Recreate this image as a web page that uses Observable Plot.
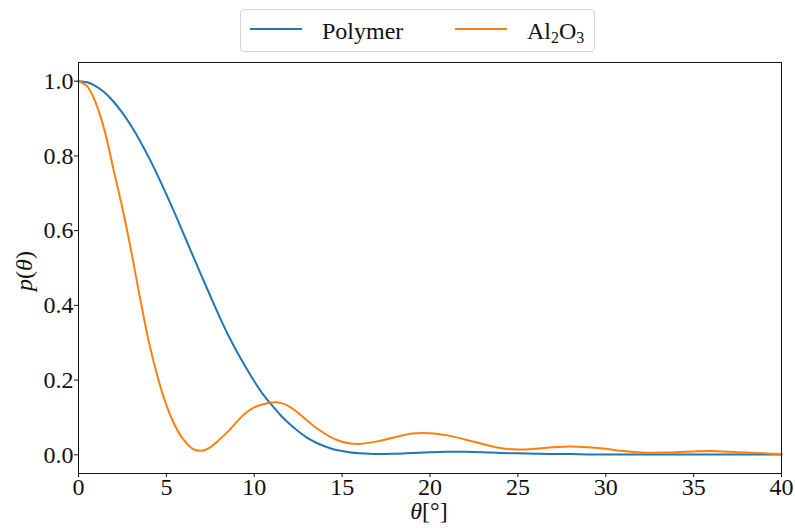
<!DOCTYPE html>
<html><head><meta charset="utf-8">
<script src="https://cdn.jsdelivr.net/npm/d3@7"></script>
<script src="https://cdn.jsdelivr.net/npm/@observablehq/plot@0.6"></script>
<style>
body{margin:0;background:#fff;font-family:"Liberation Serif",serif;}
#wrap{position:relative;width:795px;height:528px;overflow:hidden;}
#legend{position:relative;height:52px;}
.box{position:absolute;left:240px;top:9px;width:355px;height:43px;border:1px solid #d4d4d4;border-radius:4px;box-sizing:border-box;}
.sw{position:absolute;height:2px;top:28px;width:52px;}
.lab{position:absolute;top:17px;font-size:24px;line-height:28px;color:#111;white-space:nowrap;}
.lab sub{font-size:16px;vertical-align:-4px;line-height:0;}
#chart svg{display:block;}
#chart svg text{font-family:"Liberation Serif",serif !important;}
</style></head>
<body>
<div id="wrap">
  <div id="legend">
    <div class="box"></div>
    <div class="sw" style="left:250px;background:#1f77b4"></div>
    <div class="lab" style="left:322px">Polymer</div>
    <div class="sw" style="left:455px;background:#ff7f0e"></div>
    <div class="lab" style="left:527px">Al<sub>2</sub>O<sub>3</sub></div>
  </div>
  <div id="chart"></div>
</div>
<script>
const angles = [0,0.5,1,1.5,2,2.5,3,3.5,4,4.5,5,5.5,6,6.5,7,7.5,8,8.5,9,9.5,10,10.5,11,11.5,12,12.5,13,13.5,14,14.5,15,15.5,16,17,18,19,20,21,22,23,24,25,26,27,28,29,30,31,32,33,34,35,36,37,38,39,40];
const polymer = [1.000,0.997,0.986,0.969,0.945,0.915,0.880,0.840,0.796,0.748,0.697,0.644,0.589,0.534,0.479,0.425,0.372,0.322,0.277,0.236,0.197,0.162,0.133,0.106,0.083,0.063,0.046,0.033,0.023,0.015,0.010,0.006,0.004,0.002,0.003,0.005,0.007,0.008,0.008,0.007,0.005,0.004,0.003,0.002,0.002,0.001,0.001,0.001,0.001,0.001,0.001,0.001,0.001,0.001,0.001,0.001,0.001];
const al2o3 = [1.000,0.986,0.940,0.865,0.762,0.660,0.545,0.420,0.303,0.209,0.133,0.077,0.039,0.016,0.011,0.020,0.040,0.062,0.088,0.111,0.127,0.135,0.140,0.139,0.129,0.112,0.092,0.073,0.057,0.044,0.035,0.030,0.029,0.036,0.047,0.057,0.058,0.052,0.041,0.029,0.018,0.014,0.016,0.020,0.022,0.020,0.016,0.010,0.006,0.006,0.007,0.009,0.010,0.008,0.006,0.004,0.002];
const xTicks = [0,5,10,15,20,25,30,35,40];
const yTicks = [0,0.2,0.4,0.6,0.8,1.0];
const seriesNames = ["Polymer","Al2O3"];
const seriesColors = ["#1f77b4","#ff7f0e"];

const rows = angles.flatMap((a,i)=>[
  {a, v: polymer[i], s: seriesNames[0]},
  {a, v: al2o3[i], s: seriesNames[1]}
]);

const chart = Plot.plot({
  width: 795, height: 476,
  marginTop: 10, marginBottom: 55, marginLeft: 78, marginRight: 14,
  style: {fontFamily: "Liberation Serif, serif", fontSize: "24px", color: "#111", background: "#fff"},
  x: {domain: [0, 40]},
  y: {domain: [-0.05, 1.05]},
  color: {domain: seriesNames, range: seriesColors},
  marks: [
    Plot.line(rows, {x: "a", y: "v", z: "s", stroke: "s", strokeWidth: 2, curve: "catmull-rom"}),
    Plot.frame({stroke: "#111", strokeWidth: 1}),
    Plot.axisX({ticks: xTicks, tickFormat: d => String(d), tickSize: 4, tickPadding: 0, label: null, fontSize: 24}),
    Plot.axisY({ticks: yTicks, tickFormat: d => d.toFixed(1), tickSize: 4, tickPadding: 1, label: null, fontSize: 24})
  ]
});
document.getElementById("chart").appendChild(chart);

const svg = d3.select(chart);
svg.selectAll("text").style("font-family", "'Liberation Serif', serif");
const yl = svg.append("text")
  .attr("transform", "translate(32,219) rotate(-90)")
  .attr("text-anchor", "middle")
  .attr("font-size", 24).attr("fill", "#111")
  .style("font-family", "'Liberation Serif', serif");
yl.append("tspan").attr("font-style", "italic").text("p");
yl.append("tspan").text("(");
yl.append("tspan").attr("font-style", "italic").text("θ");
yl.append("tspan").text(")");

const xl = svg.append("text")
  .attr("x", 429).attr("y", 467)
  .attr("text-anchor", "middle")
  .attr("font-size", 24).attr("fill", "#111")
  .style("font-family", "'Liberation Serif', serif");
xl.append("tspan").attr("font-style", "italic").text("θ");
xl.append("tspan").text("[°]");
</script>
</body></html>
